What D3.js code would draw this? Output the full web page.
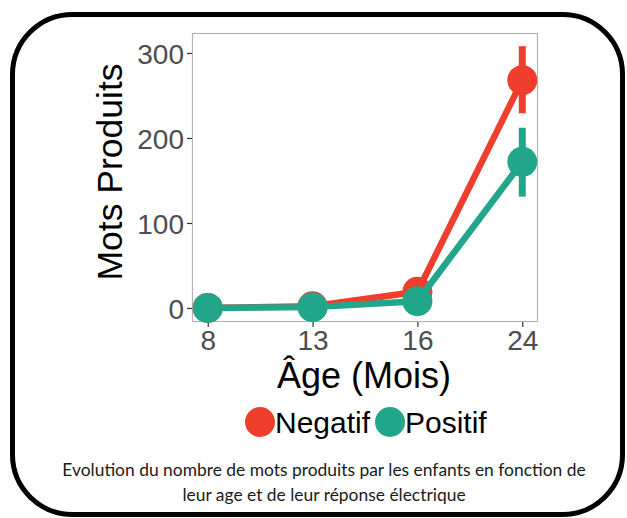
<!DOCTYPE html>
<html><head><meta charset="utf-8">
<script src="https://cdn.jsdelivr.net/npm/d3@7"></script>
<style>
html,body{margin:0;padding:0;background:#fff;}
svg{display:block;}
</style></head>
<body>
<svg id="chart" width="627" height="518"></svg>
<script>
const ages = ["8", "13", "16", "24"];
const negatifValues = [0, 2, 19, 268];
const negatifLow = [null, null, null, 229];
const negatifHigh = [null, null, null, 308];
const positifValues = [0, 1, 8, 172];
const positifLow = [null, null, null, 131];
const positifHigh = [null, null, null, 212];
const yTicks = [0, 100, 200, 300];
const seriesNames = ["Negatif", "Positif"];
const seriesColors = ["#EF3E2C", "#21A68B"];
const captionLines = [
  "Evolution du nombre de mots produits par les enfants en fonction de",
  "leur age et de leur réponse électrique"
];

const svg = d3.select("#chart");
const panel = {left: 192, right: 538, top: 33, bottom: 322};
const sans = "'Liberation Sans', Arial, Helvetica, sans-serif";

// outer rounded frame
svg.append("rect").attr("x", 12.5).attr("y", 14.5).attr("width", 610).attr("height", 500)
  .attr("rx", 60).attr("ry", 60).attr("fill", "#fff").attr("stroke", "#000").attr("stroke-width", 5);

const x = d3.scalePoint().domain(ages).range([panel.left, panel.right]).padding(0.15);
const y = d3.scaleLinear().domain([-16.5, 323.5]).range([panel.bottom, panel.top]);

// panel border
svg.append("rect").attr("x", panel.left + 0.5).attr("y", panel.top + 0.5)
  .attr("width", panel.right - panel.left - 1).attr("height", panel.bottom - panel.top - 1)
  .attr("fill", "none").attr("stroke", "#b3b3b3").attr("stroke-width", 1.2);

// axes
const yAxis = svg.append("g").attr("transform", `translate(${panel.left},0)`)
  .call(d3.axisLeft(y).tickValues(yTicks).tickSize(5).tickPadding(3));
const xAxis = svg.append("g").attr("transform", `translate(0,${panel.bottom})`)
  .call(d3.axisBottom(x).tickSize(5).tickPadding(3));
[yAxis, xAxis].forEach(a => {
  a.select(".domain").remove();
  a.selectAll(".tick line").attr("stroke", "#333").attr("stroke-width", 1.2);
  a.selectAll(".tick text").attr("fill", "#4d4d4d")
    .style("font-family", sans).style("font-size", "28px");
});
yAxis.selectAll(".tick text").attr("dy", "0.36em");
xAxis.selectAll(".tick text").attr("dy", "0.72em");

// series
const series = [
  {name: seriesNames[0], color: seriesColors[0], values: negatifValues, low: negatifLow, high: negatifHigh},
  {name: seriesNames[1], color: seriesColors[1], values: positifValues, low: positifLow, high: positifHigh}
];
const line = d3.line().x((d, i) => x(ages[i])).y(d => y(d));
series.forEach(s => {
  const g = svg.append("g");
  g.append("path").attr("d", line(s.values)).attr("fill", "none")
    .attr("stroke", s.color).attr("stroke-width", 6.5).attr("stroke-linejoin", "round");
  s.values.forEach((v, i) => {
    if (s.low[i] != null) {
      g.append("line").attr("x1", x(ages[i])).attr("x2", x(ages[i]))
        .attr("y1", y(s.low[i])).attr("y2", y(s.high[i]))
        .attr("stroke", s.color).attr("stroke-width", 7);
    }
  });
  g.selectAll("circle").data(s.values).join("circle")
    .attr("cx", (d, i) => x(ages[i])).attr("cy", d => y(d)).attr("r", 15)
    .attr("fill", s.color);
});

// axis titles
svg.append("text").attr("transform", `translate(122,172) rotate(-90)`)
  .attr("text-anchor", "middle").attr("fill", "#000")
  .style("font-family", sans).style("font-size", "35.5px")
  .text("Mots Produits");
svg.append("text").attr("x", 364).attr("y", 388)
  .attr("text-anchor", "middle").attr("fill", "#000")
  .style("font-family", sans).style("font-size", "36px")
  .text("Âge (Mois)");

// legend
const legendItems = [
  {name: seriesNames[0], color: seriesColors[0], cx: 260, tx: 275},
  {name: seriesNames[1], color: seriesColors[1], cx: 390, tx: 405}
];
legendItems.forEach(l => {
  svg.append("circle").attr("cx", l.cx).attr("cy", 422).attr("r", 15).attr("fill", l.color);
  svg.append("text").attr("x", l.tx).attr("y", 433).attr("fill", "#000")
    .style("font-family", sans).style("font-size", "30px")
    .text(l.name);
});

// caption
const capTarget = 524;
let capFs = 16;
captionLines.forEach((t, i) => {
  const txt = svg.append("text").attr("x", 324).attr("y", 476 + i * 25)
    .attr("text-anchor", "middle").attr("fill", "#1a1a1a")
    .style("font-family", "Lato, 'Open Sans', sans-serif").style("font-size", capFs + "px")
    .text(t);
  if (i === 0) {
    capFs = 16 * capTarget / txt.node().getComputedTextLength();
  }
  txt.style("font-size", capFs + "px");
});
</script>
</body></html>
